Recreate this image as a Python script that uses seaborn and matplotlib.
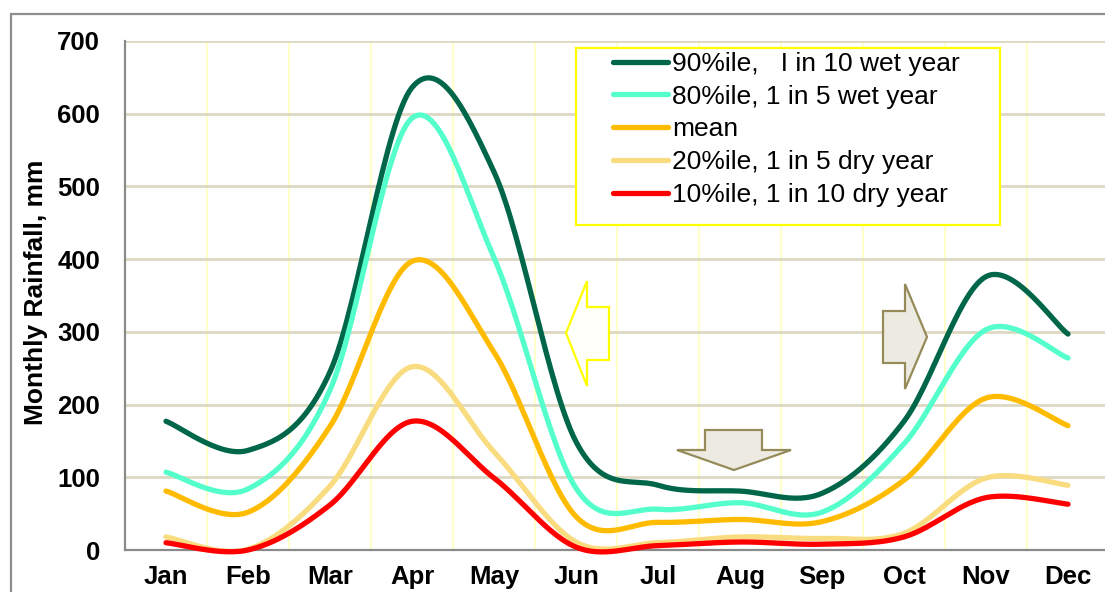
import numpy as np
import pandas as pd
import matplotlib
matplotlib.use("Agg")
import matplotlib.pyplot as plt
import seaborn as sns
from matplotlib.patches import Rectangle, Polygon
from matplotlib.lines import Line2D

months = ["Jan", "Feb", "Mar", "Apr", "May", "Jun", "Jul", "Aug", "Sep", "Oct", "Nov", "Dec"]
p90 = [177, 137, 245, 636, 520, 149, 89, 81, 78, 177, 376, 297]
p80 = [107, 84, 220, 594, 402, 85, 56, 65, 52, 146, 303, 264]
mean = [81, 52, 170, 397, 272, 46, 38, 42, 39, 96, 209, 171]
p20 = [18, 1, 88, 252, 135, 11, 10, 18, 16, 23, 99, 89]
p10 = [10, 0, 62, 177, 99, 4, 6, 11, 8, 18, 72, 63]

labels = ["90%ile,   I in 10 wet year", "80%ile, 1 in 5 wet year", "mean",
          "20%ile, 1 in 5 dry year", "10%ile, 1 in 10 dry year"]
series = [p90, p80, mean, p20, p10]
colors = ["#00664A", "#55FFCC", "#FFBB00", "#FADC80", "#FF0000"]

sns.set_theme(style="white")
plt.rcParams["font.family"] = ["Liberation Sans", "DejaVu Sans"]
plt.rcParams["text.color"] = "black"

W, H = 1105, 592
fig = plt.figure(figsize=(W / 100, H / 100), dpi=100)
ax = fig.add_axes([125 / W, 42 / H, 984 / W, 509 / H])


def smooth(yv, n=30):
    """Excel-style smoothed line (Bezier segments through the points)."""
    pts = np.column_stack([np.arange(len(yv)), np.asarray(yv, float)])
    out = []
    for i in range(len(pts) - 1):
        p0 = pts[i - 1] if i > 0 else pts[i]
        p1 = pts[i]
        p2 = pts[i + 1]
        p3 = pts[i + 2] if i + 2 < len(pts) else pts[i + 1]
        c1 = p1 + (p2 - p0) / 6.0
        c2 = p2 - (p3 - p1) / 6.0
        t = np.linspace(0, 1, n, endpoint=(i == len(pts) - 2))[:, None]
        b = ((1 - t) ** 3) * p1 + 3 * ((1 - t) ** 2) * t * c1 + 3 * (1 - t) * t ** 2 * c2 + t ** 3 * p2
        out.append(b)
    return np.vstack(out)


rows = []
for lab, yv in zip(labels, series):
    c = smooth(yv)
    for k, (xx, yy) in enumerate(c):
        rows.append({"series": lab, "order": k, "x": xx, "y": yy})
df = pd.DataFrame(rows)

sns.lineplot(data=df, x="x", y="y", hue="series", hue_order=labels,
             palette=dict(zip(labels, colors)), sort=False, estimator=None,
             linewidth=3.8, legend=False, ax=ax, clip_on=False, zorder=3)

ax.set_xlim(-0.5, 11.5)
ax.set_ylim(0, 700)
ax.set_yticks(range(0, 701, 100))
ax.set_xticks(range(12))
ax.set_xticklabels(months)
ax.set_xlabel("")
ax.set_ylabel("Monthly Rainfall, mm", fontsize=19, fontweight="bold", color="black")
ax.yaxis.set_label_coords(-0.078, 0.507)
ax.tick_params(axis="both", length=0, labelsize=18.5, labelcolor="black")
ax.tick_params(axis="y", pad=18)
ax.tick_params(axis="x", pad=11)
for t in ax.get_xticklabels() + ax.get_yticklabels():
    t.set_fontweight("bold")

# gridlines
for v in range(100, 701, 100):
    ax.axhline(v, color="#DDD8C2", lw=2, zorder=1)
for b in np.arange(0.5, 11.6, 1.0):
    ax.axvline(b, color="#FFFFCC", lw=1.5, zorder=0.5)

for s in ["top", "right"]:
    ax.spines[s].set_visible(False)
for s in ["left", "bottom"]:
    ax.spines[s].set_color("#8A8A8A")
    ax.spines[s].set_linewidth(1.6)


def px(x, y):
    return (x / W, 1 - y / H)


# outer chart frame
fig.patches.append(Rectangle(px(11, 600), 1.2, (600 - 14) / H, transform=fig.transFigure,
                             fill=False, edgecolor="#8E8E8E", lw=1.6, zorder=1))

# arrows
yellow = [(566, 333), (587, 281), (587, 307), (609, 307), (609, 360), (587, 360), (587, 386)]
down = [(705, 430), (762, 430), (762, 450), (791, 450), (734, 470), (677, 450), (705, 450)]
right = [(883, 311), (905, 311), (905, 284), (927, 337), (905, 389), (905, 363), (883, 363)]
fig.patches.append(Polygon([px(*p) for p in yellow], closed=True, transform=fig.transFigure,
                           facecolor="#FFFFFA", edgecolor="#FFFF00", lw=1.6, zorder=2))
for shape in (down, right):
    fig.patches.append(Polygon([px(*p) for p in shape], closed=True, transform=fig.transFigure,
                               facecolor="#EDEBE1", edgecolor="#958B5A", lw=1.6, zorder=2))

# legend box
fig.patches.append(Rectangle(px(576, 225), (1000 - 576) / W, (225 - 48) / H,
                             transform=fig.transFigure, facecolor="white",
                             edgecolor="#FFFF00", lw=1.6, zorder=2))
handles = [Line2D([], [], color=c, lw=3.8, solid_capstyle="round") for c in colors]
leg = fig.legend(handles, labels, loc="upper left", bbox_to_anchor=px(613, 52),
                 bbox_transform=fig.transFigure, frameon=False, borderpad=0, borderaxespad=0,
                 fontsize=19, handlelength=2.08, handletextpad=0.15, labelspacing=0.33)
for t in leg.get_texts():
    t.set_color("black")

fig.savefig("out.png", dpi=100)
